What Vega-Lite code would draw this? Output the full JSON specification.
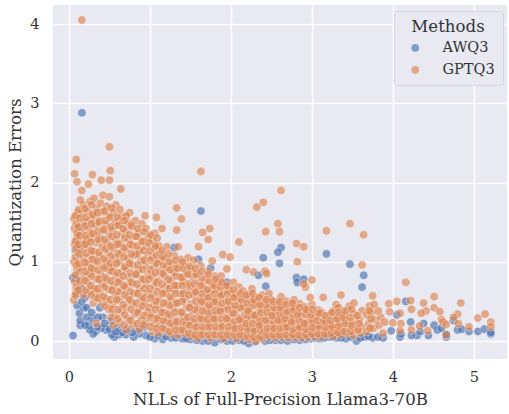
{"$schema":"https://vega.github.io/schema/vega-lite/v6.json","width":454,"height":354,"autosize":"none","padding":{"left":53,"top":5,"right":2,"bottom":55},"background":"white",
"config":{"view":{"fill":"#e8e9f1","stroke":null},"font":"DejaVu Serif"},
"datasets":{
"awq":[{"x":0.16,"y":2.88},{"x":1.63,"y":1.64},{"x":1.6,"y":1.03},{"x":2.62,"y":1.18},{"x":2.58,"y":1.12},{"x":2.4,"y":1.05},{"x":2.6,"y":0.98},{"x":3.18,"y":1.1},{"x":3.47,"y":0.97},{"x":3.64,"y":0.83},{"x":3.62,"y":0.68},{"x":2.81,"y":0.8},{"x":2.82,"y":0.74},{"x":2.9,"y":0.78},{"x":2.43,"y":0.69},{"x":2.34,"y":0.83},{"x":1.3,"y":1.18},{"x":1.75,"y":0.92},{"x":1.95,"y":0.74},{"x":4.16,"y":0.5},{"x":4.05,"y":0.33},{"x":4.22,"y":0.24},{"x":4.38,"y":0.22},{"x":4.51,"y":0.2},{"x":4.55,"y":0.14},{"x":4.6,"y":0.16},{"x":4.75,"y":0.26},{"x":4.8,"y":0.14},{"x":4.85,"y":0.15},{"x":4.94,"y":0.12},{"x":5.05,"y":0.12},{"x":5.13,"y":0.15},{"x":5.21,"y":0.09},{"x":5.21,"y":0.11},{"x":4.66,"y":0.05},{"x":4.66,"y":0.08},{"x":4.44,"y":0.07},{"x":4.3,"y":0.07},{"x":4.34,"y":0.12},{"x":4.23,"y":0.07},{"x":4.09,"y":0.05},{"x":4.1,"y":0.09},{"x":3.98,"y":0.13},{"x":3.88,"y":0.04},{"x":3.75,"y":0.04},{"x":3.65,"y":0.05},{"x":3.55,"y":0.0},{"x":3.6,"y":0.04},{"x":3.42,"y":0.03},{"x":3.3,"y":0.04},{"x":3.2,"y":0.05},{"x":3.1,"y":0.03},{"x":2.98,"y":0.03},{"x":2.85,"y":0.01},{"x":2.7,"y":0.0},{"x":2.55,"y":0.01},{"x":2.42,"y":0.0},{"x":2.22,"y":-0.03},{"x":2.1,"y":0.01},{"x":1.95,"y":0.0},{"x":1.8,"y":-0.02},{"x":1.65,"y":0.0},{"x":1.5,"y":0.02},{"x":1.4,"y":0.03},{"x":1.26,"y":0.04},{"x":1.16,"y":0.02},{"x":1.06,"y":0.03},{"x":0.95,"y":0.07},{"x":0.87,"y":0.09},{"x":0.84,"y":0.13},{"x":0.8,"y":0.05},{"x":0.7,"y":0.08},{"x":0.62,"y":0.08},{"x":0.56,"y":0.05},{"x":0.53,"y":0.08},{"x":0.46,"y":0.14},{"x":0.4,"y":0.16},{"x":0.33,"y":0.12},{"x":0.3,"y":0.09},{"x":0.25,"y":0.2},{"x":0.29,"y":0.28},{"x":0.14,"y":0.2},{"x":0.14,"y":0.26},{"x":0.13,"y":0.35},{"x":0.18,"y":0.42},{"x":0.05,"y":0.07},{"x":0.05,"y":0.8},{"x":0.09,"y":0.78},{"x":0.1,"y":0.6},{"x":0.08,"y":1.15},{"x":0.12,"y":1.18},{"x":0.12,"y":1.42},{"x":0.42,"y":0.3},{"x":0.52,"y":0.25},{"x":0.6,"y":0.17},{"x":0.72,"y":0.16},{"x":0.92,"y":0.17},{"x":1.1,"y":0.07},{"x":1.2,"y":0.06},{"x":0.2,"y":0.55},{"x":0.15,"y":0.66},{"x":0.22,"y":0.3},{"x":0.35,"y":0.18},{"x":0.5,"y":0.15},{"x":0.66,"y":0.11},{"x":0.78,"y":0.11},{"x":1.0,"y":0.05},{"x":1.32,"y":0.04},{"x":1.45,"y":0.03},{"x":1.58,"y":0.01},{"x":1.72,"y":0.0},{"x":1.88,"y":0.02},{"x":2.02,"y":0.0},{"x":2.16,"y":0.0},{"x":2.3,"y":-0.01},{"x":2.48,"y":0.01},{"x":2.62,"y":0.01},{"x":2.78,"y":0.02},{"x":2.92,"y":0.02},{"x":3.04,"y":0.04},{"x":3.15,"y":0.04},{"x":3.25,"y":0.05},{"x":3.36,"y":0.04},{"x":3.48,"y":0.05},{"x":3.7,"y":0.06},{"x":3.82,"y":0.05},{"x":0.1,"y":0.45},{"x":0.16,"y":0.5},{"x":0.22,"y":0.42},{"x":0.28,"y":0.36},{"x":0.36,"y":0.3},{"x":0.44,"y":0.22},{"x":0.38,"y":0.42},{"x":0.26,"y":0.14},{"x":0.58,"y":0.12},{"x":0.2,"y":0.2}],
"gpt":[{"x":0.16,"y":4.05},{"x":0.5,"y":2.45},{"x":0.09,"y":2.29},{"x":0.51,"y":2.15},{"x":0.07,"y":2.11},{"x":0.29,"y":2.1},{"x":0.1,"y":2.01},{"x":0.4,"y":2.03},{"x":0.5,"y":2.03},{"x":0.24,"y":1.98},{"x":0.64,"y":1.92},{"x":0.16,"y":1.9},{"x":1.63,"y":2.14},{"x":2.62,"y":1.9},{"x":2.4,"y":1.75},{"x":2.32,"y":1.69},{"x":1.33,"y":1.68},{"x":0.75,"y":1.62},{"x":1.39,"y":1.54},{"x":1.65,"y":1.37},{"x":1.74,"y":1.42},{"x":1.72,"y":1.28},{"x":2.1,"y":1.25},{"x":1.33,"y":1.4},{"x":1.6,"y":1.19},{"x":1.9,"y":1.09},{"x":1.99,"y":1.06},{"x":1.77,"y":1.01},{"x":2.19,"y":0.9},{"x":1.95,"y":0.91},{"x":2.28,"y":0.87},{"x":2.58,"y":1.48},{"x":2.43,"y":1.38},{"x":2.6,"y":1.38},{"x":2.81,"y":1.23},{"x":2.9,"y":1.19},{"x":3.18,"y":1.39},{"x":3.47,"y":1.48},{"x":3.64,"y":1.34},{"x":2.82,"y":1.0},{"x":3.62,"y":0.96},{"x":2.42,"y":0.88},{"x":2.44,"y":0.85},{"x":3.0,"y":0.77},{"x":2.92,"y":0.68},{"x":2.9,"y":0.72},{"x":3.36,"y":0.58},{"x":3.14,"y":0.55},{"x":3.75,"y":0.57},{"x":4.16,"y":0.74},{"x":4.51,"y":0.56},{"x":4.84,"y":0.48},{"x":4.05,"y":0.5},{"x":4.22,"y":0.51},{"x":3.95,"y":0.47},{"x":4.23,"y":0.4},{"x":4.38,"y":0.48},{"x":4.51,"y":0.42},{"x":4.58,"y":0.37},{"x":4.41,"y":0.38},{"x":4.35,"y":0.35},{"x":4.09,"y":0.35},{"x":3.96,"y":0.37},{"x":4.8,"y":0.34},{"x":4.75,"y":0.3},{"x":4.6,"y":0.27},{"x":4.62,"y":0.24},{"x":4.66,"y":0.21},{"x":4.81,"y":0.22},{"x":4.94,"y":0.18},{"x":5.05,"y":0.29},{"x":5.14,"y":0.34},{"x":5.21,"y":0.24},{"x":5.21,"y":0.18},{"x":4.0,"y":0.23},{"x":4.1,"y":0.22},{"x":3.88,"y":0.1},{"x":4.09,"y":0.13},{"x":4.33,"y":0.19},{"x":4.23,"y":0.14},{"x":4.43,"y":0.13},{"x":4.66,"y":0.08},
{"x":0.06,"y":0.52},{"x":0.09,"y":0.62},{"x":0.07,"y":0.75},{"x":0.1,"y":0.9},{"x":0.06,"y":1.0},{"x":0.11,"y":1.12},{"x":0.07,"y":1.22},{"x":0.1,"y":1.3},{"x":0.07,"y":1.42},{"x":0.06,"y":1.55},{"x":0.11,"y":1.62},
{"x":0.18,"y":0.58},{"x":0.15,"y":0.7},{"x":0.19,"y":0.82},{"x":0.16,"y":0.93},{"x":0.18,"y":1.05},{"x":0.15,"y":1.16},{"x":0.18,"y":1.28},{"x":0.16,"y":1.38},{"x":0.19,"y":1.5},{"x":0.15,"y":1.6},{"x":0.18,"y":1.72},{"x":0.14,"y":1.78},
{"x":0.26,"y":0.63},{"x":0.23,"y":0.74},{"x":0.26,"y":0.85},{"x":0.24,"y":0.97},{"x":0.27,"y":1.08},{"x":0.23,"y":1.19},{"x":0.26,"y":1.3},{"x":0.24,"y":1.42},{"x":0.27,"y":1.53},{"x":0.23,"y":1.64},{"x":0.26,"y":1.76},
{"x":0.34,"y":0.22},{"x":0.3,"y":0.48},{"x":0.33,"y":0.55},{"x":0.31,"y":0.66},{"x":0.34,"y":0.78},{"x":0.3,"y":0.9},{"x":0.33,"y":1.02},{"x":0.31,"y":1.13},{"x":0.34,"y":1.24},{"x":0.3,"y":1.35},{"x":0.33,"y":1.46},{"x":0.31,"y":1.58},{"x":0.34,"y":1.68},{"x":0.31,"y":1.8},
{"x":0.41,"y":0.48},{"x":0.38,"y":0.6},{"x":0.41,"y":0.72},{"x":0.39,"y":0.84},{"x":0.42,"y":0.95},{"x":0.38,"y":1.07},{"x":0.41,"y":1.19},{"x":0.39,"y":1.3},{"x":0.42,"y":1.41},{"x":0.38,"y":1.52},{"x":0.41,"y":1.63},{"x":0.39,"y":1.74},{"x":0.42,"y":1.84},
{"x":0.49,"y":0.4},{"x":0.46,"y":0.53},{"x":0.49,"y":0.65},{"x":0.47,"y":0.77},{"x":0.5,"y":0.89},{"x":0.46,"y":1.0},{"x":0.49,"y":1.12},{"x":0.47,"y":1.24},{"x":0.5,"y":1.35},{"x":0.46,"y":1.47},{"x":0.49,"y":1.58},{"x":0.47,"y":1.7},{"x":0.5,"y":1.82},
{"x":0.55,"y":0.2},{"x":0.57,"y":0.33},{"x":0.54,"y":0.46},{"x":0.57,"y":0.58},{"x":0.55,"y":0.7},{"x":0.58,"y":0.82},{"x":0.54,"y":0.93},{"x":0.57,"y":1.05},{"x":0.55,"y":1.17},{"x":0.58,"y":1.28},{"x":0.54,"y":1.4},{"x":0.57,"y":1.5},{"x":0.55,"y":1.62},{"x":0.58,"y":1.72},
{"x":0.63,"y":0.24},{"x":0.65,"y":0.38},{"x":0.62,"y":0.52},{"x":0.65,"y":0.64},{"x":0.63,"y":0.76},{"x":0.66,"y":0.88},{"x":0.62,"y":1.0},{"x":0.65,"y":1.12},{"x":0.63,"y":1.23},{"x":0.66,"y":1.35},{"x":0.62,"y":1.46},{"x":0.65,"y":1.57},{"x":0.63,"y":1.66},
{"x":0.71,"y":0.14},{"x":0.73,"y":0.28},{"x":0.7,"y":0.42},{"x":0.73,"y":0.55},{"x":0.71,"y":0.68},{"x":0.74,"y":0.8},{"x":0.7,"y":0.92},{"x":0.73,"y":1.04},{"x":0.71,"y":1.16},{"x":0.74,"y":1.28},{"x":0.7,"y":1.39},{"x":0.73,"y":1.5},{"x":0.71,"y":1.58},
{"x":0.79,"y":0.2},{"x":0.81,"y":0.34},{"x":0.78,"y":0.48},{"x":0.81,"y":0.6},{"x":0.79,"y":0.72},{"x":0.82,"y":0.84},{"x":0.78,"y":0.96},{"x":0.81,"y":1.08},{"x":0.79,"y":1.2},{"x":0.82,"y":1.32},{"x":0.78,"y":1.44},{"x":0.82,"y":1.52},
{"x":0.87,"y":0.15},{"x":0.89,"y":0.27},{"x":0.86,"y":0.4},{"x":0.89,"y":0.53},{"x":0.87,"y":0.66},{"x":0.9,"y":0.78},{"x":0.86,"y":0.9},{"x":0.89,"y":1.02},{"x":0.87,"y":1.14},{"x":0.9,"y":1.25},{"x":0.86,"y":1.36},{"x":0.9,"y":1.48},
{"x":0.95,"y":0.24},{"x":0.97,"y":0.36},{"x":0.94,"y":0.48},{"x":0.97,"y":0.6},{"x":0.95,"y":0.72},{"x":0.98,"y":0.84},{"x":0.94,"y":0.96},{"x":0.97,"y":1.08},{"x":0.95,"y":1.2},{"x":0.98,"y":1.31},{"x":0.95,"y":1.42},{"x":1.08,"y":1.56},{"x":0.94,"y":1.58},
{"x":1.03,"y":0.12},{"x":1.05,"y":0.22},{"x":1.02,"y":0.34},{"x":1.05,"y":0.46},{"x":1.03,"y":0.58},{"x":1.06,"y":0.7},{"x":1.02,"y":0.82},{"x":1.05,"y":0.94},{"x":1.03,"y":1.06},{"x":1.06,"y":1.17},{"x":1.03,"y":1.27},{"x":1.06,"y":1.36},
{"x":1.11,"y":0.1},{"x":1.13,"y":0.2},{"x":1.1,"y":0.3},{"x":1.13,"y":0.42},{"x":1.11,"y":0.53},{"x":1.14,"y":0.65},{"x":1.1,"y":0.76},{"x":1.13,"y":0.88},{"x":1.11,"y":1.0},{"x":1.14,"y":1.1},{"x":1.11,"y":1.2},{"x":1.15,"y":1.42},
{"x":1.19,"y":0.14},{"x":1.21,"y":0.25},{"x":1.18,"y":0.36},{"x":1.21,"y":0.48},{"x":1.19,"y":0.6},{"x":1.22,"y":0.7},{"x":1.18,"y":0.82},{"x":1.21,"y":0.93},{"x":1.19,"y":1.05},{"x":1.21,"y":1.19},
{"x":1.27,"y":0.09},{"x":1.29,"y":0.2},{"x":1.26,"y":0.31},{"x":1.29,"y":0.42},{"x":1.27,"y":0.53},{"x":1.3,"y":0.65},{"x":1.26,"y":0.76},{"x":1.29,"y":0.87},{"x":1.27,"y":0.98},{"x":1.3,"y":1.08},
{"x":1.35,"y":0.08},{"x":1.37,"y":0.16},{"x":1.34,"y":0.26},{"x":1.37,"y":0.37},{"x":1.35,"y":0.48},{"x":1.38,"y":0.59},{"x":1.34,"y":0.7},{"x":1.37,"y":0.81},{"x":1.35,"y":0.92},{"x":1.38,"y":1.03},{"x":1.35,"y":1.19},
{"x":1.43,"y":0.1},{"x":1.45,"y":0.2},{"x":1.42,"y":0.31},{"x":1.45,"y":0.42},{"x":1.43,"y":0.53},{"x":1.46,"y":0.64},{"x":1.42,"y":0.75},{"x":1.45,"y":0.86},{"x":1.43,"y":0.97},{"x":1.47,"y":1.05},
{"x":1.51,"y":0.06},{"x":1.53,"y":0.15},{"x":1.5,"y":0.25},{"x":1.53,"y":0.36},{"x":1.51,"y":0.47},{"x":1.54,"y":0.58},{"x":1.5,"y":0.69},{"x":1.53,"y":0.8},{"x":1.51,"y":0.91},{"x":1.54,"y":1.02},
{"x":1.59,"y":0.04},{"x":1.61,"y":0.13},{"x":1.58,"y":0.22},{"x":1.61,"y":0.32},{"x":1.59,"y":0.42},{"x":1.62,"y":0.53},{"x":1.58,"y":0.63},{"x":1.61,"y":0.74},{"x":1.59,"y":0.85},{"x":1.63,"y":0.95},
{"x":1.67,"y":0.08},{"x":1.69,"y":0.17},{"x":1.66,"y":0.27},{"x":1.69,"y":0.37},{"x":1.67,"y":0.47},{"x":1.7,"y":0.57},{"x":1.66,"y":0.67},{"x":1.69,"y":0.77},{"x":1.72,"y":0.88},
{"x":1.75,"y":0.04},{"x":1.77,"y":0.13},{"x":1.74,"y":0.22},{"x":1.77,"y":0.32},{"x":1.75,"y":0.42},{"x":1.78,"y":0.52},{"x":1.74,"y":0.62},{"x":1.77,"y":0.72},{"x":1.8,"y":0.82},
{"x":1.83,"y":0.07},{"x":1.85,"y":0.16},{"x":1.82,"y":0.26},{"x":1.85,"y":0.36},{"x":1.83,"y":0.46},{"x":1.86,"y":0.56},{"x":1.82,"y":0.66},{"x":1.85,"y":0.75},{"x":1.88,"y":0.82},
{"x":1.91,"y":0.03},{"x":1.93,"y":0.12},{"x":1.9,"y":0.21},{"x":1.93,"y":0.31},{"x":1.91,"y":0.41},{"x":1.94,"y":0.51},{"x":1.9,"y":0.6},{"x":1.93,"y":0.69},
{"x":1.99,"y":0.06},{"x":2.01,"y":0.15},{"x":1.98,"y":0.25},{"x":2.01,"y":0.35},{"x":1.99,"y":0.45},{"x":2.02,"y":0.55},{"x":1.98,"y":0.64},{"x":2.03,"y":0.74},
{"x":2.07,"y":0.03},{"x":2.09,"y":0.11},{"x":2.06,"y":0.2},{"x":2.09,"y":0.3},{"x":2.07,"y":0.4},{"x":2.1,"y":0.5},{"x":2.06,"y":0.59},{"x":2.1,"y":0.68},
{"x":2.15,"y":0.05},{"x":2.17,"y":0.14},{"x":2.14,"y":0.24},{"x":2.17,"y":0.34},{"x":2.15,"y":0.44},{"x":2.18,"y":0.54},{"x":2.15,"y":0.63},
{"x":2.23,"y":0.02},{"x":2.25,"y":0.1},{"x":2.22,"y":0.19},{"x":2.25,"y":0.29},{"x":2.23,"y":0.39},{"x":2.26,"y":0.49},{"x":2.23,"y":0.58},{"x":2.26,"y":0.66},
{"x":2.31,"y":0.0},{"x":2.33,"y":0.07},{"x":2.3,"y":0.15},{"x":2.33,"y":0.24},{"x":2.31,"y":0.34},{"x":2.34,"y":0.44},{"x":2.31,"y":0.53},
{"x":2.39,"y":0.03},{"x":2.41,"y":0.11},{"x":2.38,"y":0.2},{"x":2.41,"y":0.3},{"x":2.39,"y":0.4},{"x":2.42,"y":0.5},{"x":2.39,"y":0.58},
{"x":2.47,"y":0.05},{"x":2.49,"y":0.14},{"x":2.46,"y":0.23},{"x":2.49,"y":0.33},{"x":2.47,"y":0.43},{"x":2.5,"y":0.52},{"x":2.47,"y":0.6},
{"x":2.55,"y":0.04},{"x":2.57,"y":0.12},{"x":2.54,"y":0.2},{"x":2.57,"y":0.29},{"x":2.55,"y":0.38},{"x":2.58,"y":0.47},{"x":2.62,"y":0.56},
{"x":2.63,"y":0.05},{"x":2.65,"y":0.15},{"x":2.62,"y":0.24},{"x":2.65,"y":0.33},{"x":2.63,"y":0.42},{"x":2.68,"y":0.5},
{"x":2.71,"y":0.04},{"x":2.73,"y":0.11},{"x":2.7,"y":0.19},{"x":2.73,"y":0.28},{"x":2.71,"y":0.37},{"x":2.75,"y":0.45},{"x":2.78,"y":0.52},
{"x":2.79,"y":0.05},{"x":2.81,"y":0.14},{"x":2.78,"y":0.23},{"x":2.81,"y":0.32},{"x":2.79,"y":0.41},{"x":2.85,"y":0.47},
{"x":2.87,"y":0.04},{"x":2.89,"y":0.11},{"x":2.86,"y":0.19},{"x":2.89,"y":0.27},{"x":2.87,"y":0.35},{"x":2.91,"y":0.43},
{"x":2.95,"y":0.05},{"x":2.97,"y":0.13},{"x":2.94,"y":0.22},{"x":2.97,"y":0.3},{"x":2.95,"y":0.38},{"x":3.0,"y":0.46},{"x":2.98,"y":0.55},
{"x":3.03,"y":0.06},{"x":3.05,"y":0.14},{"x":3.02,"y":0.22},{"x":3.05,"y":0.31},{"x":3.08,"y":0.39},
{"x":3.11,"y":0.05},{"x":3.13,"y":0.12},{"x":3.1,"y":0.2},{"x":3.14,"y":0.28},{"x":3.12,"y":0.36},
{"x":3.19,"y":0.08},{"x":3.21,"y":0.16},{"x":3.18,"y":0.24},{"x":3.22,"y":0.33},
{"x":3.27,"y":0.06},{"x":3.29,"y":0.13},{"x":3.26,"y":0.21},{"x":3.29,"y":0.29},{"x":3.27,"y":0.38},{"x":3.3,"y":0.46},
{"x":3.35,"y":0.08},{"x":3.37,"y":0.16},{"x":3.34,"y":0.24},{"x":3.37,"y":0.33},{"x":3.33,"y":0.42},
{"x":3.43,"y":0.1},{"x":3.45,"y":0.18},{"x":3.42,"y":0.26},{"x":3.44,"y":0.38},{"x":3.46,"y":0.44},
{"x":3.51,"y":0.07},{"x":3.54,"y":0.15},{"x":3.5,"y":0.24},{"x":3.53,"y":0.34},{"x":3.52,"y":0.48},
{"x":3.6,"y":0.1},{"x":3.62,"y":0.18},{"x":3.59,"y":0.27},{"x":3.62,"y":0.38},
{"x":3.68,"y":0.12},{"x":3.7,"y":0.22},{"x":3.68,"y":0.33},{"x":3.71,"y":0.44},
{"x":3.76,"y":0.16},{"x":3.78,"y":0.27},{"x":3.74,"y":0.36},{"x":3.77,"y":0.46},
{"x":3.83,"y":0.2},{"x":3.85,"y":0.3},{"x":3.82,"y":0.38},{"x":3.9,"y":0.24},
{"x":0.13,"y":0.88},{"x":0.21,"y":1.25},{"x":0.28,"y":0.82},{"x":0.36,"y":1.28},{"x":0.44,"y":0.68},{"x":0.52,"y":1.07},{"x":0.6,"y":0.62},{"x":0.68,"y":1.18},{"x":0.76,"y":0.62},{"x":0.84,"y":1.1},{"x":0.92,"y":0.55},{"x":1.0,"y":0.9},{"x":1.08,"y":0.5},{"x":1.16,"y":0.85},{"x":1.24,"y":0.45},{"x":1.32,"y":0.82},{"x":1.4,"y":0.5},{"x":1.48,"y":0.72},{"x":1.56,"y":0.4},{"x":1.64,"y":0.6},{"x":1.72,"y":0.35},{"x":1.8,"y":0.5},{"x":1.88,"y":0.28},{"x":1.96,"y":0.4},{"x":2.04,"y":0.25},{"x":2.12,"y":0.42},{"x":2.2,"y":0.3},{"x":2.28,"y":0.45},{"x":2.36,"y":0.27},{"x":2.44,"y":0.44},{"x":2.52,"y":0.25},{"x":2.6,"y":0.34},{"x":2.68,"y":0.22},{"x":2.76,"y":0.32},{"x":2.84,"y":0.26},{"x":2.92,"y":0.34},{"x":3.0,"y":0.25},
{"x":0.08,"y":0.58},{"x":0.09,"y":0.68},{"x":0.08,"y":0.83},{"x":0.09,"y":0.96},{"x":0.08,"y":1.06},{"x":0.09,"y":1.17},{"x":0.08,"y":1.26},{"x":0.1,"y":1.36},{"x":0.09,"y":1.48},{"x":0.08,"y":1.58},
{"x":0.12,"y":0.64},{"x":0.13,"y":0.76},{"x":0.12,"y":0.98},{"x":0.13,"y":1.1},{"x":0.12,"y":1.22},{"x":0.13,"y":1.33},{"x":0.12,"y":1.44},{"x":0.13,"y":1.55},{"x":0.12,"y":1.66},
{"x":0.21,"y":0.64},{"x":0.2,"y":0.76},{"x":0.21,"y":0.88},{"x":0.2,"y":0.99},{"x":0.21,"y":1.11},{"x":0.2,"y":1.22},{"x":0.21,"y":1.33},{"x":0.2,"y":1.45},{"x":0.21,"y":1.56},{"x":0.2,"y":1.67},
{"x":0.28,"y":0.58},{"x":0.27,"y":0.7},{"x":0.28,"y":0.92},{"x":0.29,"y":1.03},{"x":0.28,"y":1.14},{"x":0.27,"y":1.25},{"x":0.29,"y":1.36},{"x":0.28,"y":1.48},{"x":0.29,"y":1.6},{"x":0.28,"y":1.72},
{"x":0.36,"y":0.54},{"x":0.35,"y":0.66},{"x":0.37,"y":0.78},{"x":0.36,"y":0.9},{"x":0.35,"y":1.0},{"x":0.37,"y":1.12},{"x":0.36,"y":1.38},{"x":0.37,"y":1.5},{"x":0.35,"y":1.62},
{"x":0.45,"y":0.44},{"x":0.43,"y":0.56},{"x":0.45,"y":0.8},{"x":0.44,"y":0.92},{"x":0.43,"y":1.04},{"x":0.45,"y":1.16},{"x":0.44,"y":1.28},{"x":0.43,"y":1.4},{"x":0.45,"y":1.52},{"x":0.44,"y":1.64},
{"x":0.52,"y":0.3},{"x":0.53,"y":0.4},{"x":0.51,"y":0.52},{"x":0.53,"y":0.64},{"x":0.52,"y":0.76},{"x":0.53,"y":0.88},{"x":0.51,"y":0.98},{"x":0.52,"y":1.2},{"x":0.53,"y":1.32},{"x":0.52,"y":1.44},{"x":0.51,"y":1.56},{"x":0.53,"y":1.68},
{"x":0.6,"y":0.28},{"x":0.61,"y":0.4},{"x":0.59,"y":0.52},{"x":0.61,"y":0.74},{"x":0.6,"y":0.86},{"x":0.59,"y":0.98},{"x":0.61,"y":1.1},{"x":0.6,"y":1.22},{"x":0.59,"y":1.34},{"x":0.61,"y":1.46},{"x":0.6,"y":1.56},
{"x":0.68,"y":0.2},{"x":0.69,"y":0.33},{"x":0.67,"y":0.46},{"x":0.69,"y":0.58},{"x":0.68,"y":0.7},{"x":0.67,"y":0.82},{"x":0.69,"y":0.94},{"x":0.68,"y":1.06},{"x":0.69,"y":1.3},{"x":0.67,"y":1.42},{"x":0.68,"y":1.52},
{"x":0.76,"y":0.26},{"x":0.77,"y":0.4},{"x":0.75,"y":0.52},{"x":0.77,"y":0.74},{"x":0.76,"y":0.86},{"x":0.75,"y":0.98},{"x":0.77,"y":1.1},{"x":0.76,"y":1.22},{"x":0.75,"y":1.34},{"x":0.77,"y":1.46},
{"x":0.84,"y":0.22},{"x":0.85,"y":0.36},{"x":0.83,"y":0.48},{"x":0.85,"y":0.6},{"x":0.84,"y":0.72},{"x":0.83,"y":0.84},{"x":0.85,"y":0.96},{"x":0.84,"y":1.2},{"x":0.83,"y":1.32},{"x":0.85,"y":1.42},
{"x":0.92,"y":0.2},{"x":0.93,"y":0.32},{"x":0.91,"y":0.44},{"x":0.93,"y":0.66},{"x":0.92,"y":0.78},{"x":0.91,"y":0.9},{"x":0.93,"y":1.02},{"x":0.92,"y":1.14},{"x":0.91,"y":1.26},{"x":0.93,"y":1.38},
{"x":1.0,"y":0.18},{"x":1.01,"y":0.3},{"x":0.99,"y":0.42},{"x":1.01,"y":0.54},{"x":1.0,"y":0.66},{"x":0.99,"y":0.78},{"x":1.01,"y":1.02},{"x":1.0,"y":1.14},{"x":0.99,"y":1.24},{"x":1.01,"y":1.34},
{"x":1.08,"y":0.16},{"x":1.09,"y":0.28},{"x":1.07,"y":0.4},{"x":1.09,"y":0.62},{"x":1.08,"y":0.74},{"x":1.07,"y":0.86},{"x":1.09,"y":0.98},{"x":1.08,"y":1.08},{"x":1.07,"y":1.2},{"x":1.09,"y":1.3},
{"x":1.16,"y":0.16},{"x":1.17,"y":0.26},{"x":1.15,"y":0.36},{"x":1.17,"y":0.48},{"x":1.16,"y":0.6},{"x":1.15,"y":0.72},{"x":1.17,"y":0.96},{"x":1.16,"y":1.06},{"x":1.15,"y":1.14},
{"x":1.24,"y":0.12},{"x":1.25,"y":0.22},{"x":1.23,"y":0.34},{"x":1.25,"y":0.56},{"x":1.24,"y":0.66},{"x":1.23,"y":0.78},{"x":1.25,"y":0.9},{"x":1.24,"y":1.0},{"x":1.23,"y":1.1},
{"x":1.32,"y":0.14},{"x":1.33,"y":0.24},{"x":1.31,"y":0.36},{"x":1.33,"y":0.48},{"x":1.32,"y":0.6},{"x":1.31,"y":0.7},{"x":1.33,"y":0.92},{"x":1.32,"y":1.02},
{"x":1.4,"y":0.14},{"x":1.41,"y":0.24},{"x":1.39,"y":0.36},{"x":1.41,"y":0.6},{"x":1.4,"y":0.7},{"x":1.39,"y":0.8},{"x":1.41,"y":0.92},{"x":1.4,"y":1.0},
{"x":1.48,"y":0.1},{"x":1.49,"y":0.2},{"x":1.47,"y":0.3},{"x":1.49,"y":0.42},{"x":1.48,"y":0.58},{"x":1.47,"y":0.84},{"x":1.49,"y":0.94},
{"x":1.56,"y":0.08},{"x":1.57,"y":0.18},{"x":1.55,"y":0.28},{"x":1.57,"y":0.5},{"x":1.56,"y":0.62},{"x":1.55,"y":0.72},{"x":1.57,"y":0.84},{"x":1.56,"y":0.92},
{"x":1.64,"y":0.08},{"x":1.65,"y":0.18},{"x":1.63,"y":0.28},{"x":1.65,"y":0.38},{"x":1.64,"y":0.5},{"x":1.63,"y":0.7},{"x":1.65,"y":0.8},{"x":1.64,"y":0.88},
{"x":1.72,"y":0.08},{"x":1.73,"y":0.18},{"x":1.71,"y":0.27},{"x":1.73,"y":0.45},{"x":1.72,"y":0.55},{"x":1.71,"y":0.65},{"x":1.73,"y":0.76},{"x":1.72,"y":0.84},
{"x":1.8,"y":0.08},{"x":1.81,"y":0.18},{"x":1.79,"y":0.28},{"x":1.81,"y":0.38},{"x":1.8,"y":0.6},{"x":1.79,"y":0.7},{"x":1.81,"y":0.78},
{"x":1.88,"y":0.08},{"x":1.89,"y":0.18},{"x":1.87,"y":0.38},{"x":1.89,"y":0.48},{"x":1.88,"y":0.58},{"x":1.87,"y":0.68},{"x":1.89,"y":0.74},
{"x":1.96,"y":0.08},{"x":1.97,"y":0.18},{"x":1.95,"y":0.28},{"x":1.97,"y":0.5},{"x":1.96,"y":0.6},{"x":1.95,"y":0.7},
{"x":2.04,"y":0.08},{"x":2.05,"y":0.16},{"x":2.03,"y":0.35},{"x":2.05,"y":0.45},{"x":2.04,"y":0.55},{"x":2.03,"y":0.65},
{"x":2.12,"y":0.08},{"x":2.13,"y":0.17},{"x":2.11,"y":0.27},{"x":2.13,"y":0.52},{"x":2.12,"y":0.6},
{"x":2.2,"y":0.06},{"x":2.21,"y":0.15},{"x":2.19,"y":0.22},{"x":2.21,"y":0.38},{"x":2.2,"y":0.48},{"x":2.19,"y":0.58},
{"x":2.28,"y":0.05},{"x":2.29,"y":0.13},{"x":2.27,"y":0.22},{"x":2.29,"y":0.32},{"x":2.28,"y":0.52},{"x":2.27,"y":0.6},
{"x":2.36,"y":0.05},{"x":2.37,"y":0.13},{"x":2.35,"y":0.2},{"x":2.37,"y":0.36},{"x":2.36,"y":0.46},{"x":2.35,"y":0.55},
{"x":2.44,"y":0.08},{"x":2.45,"y":0.16},{"x":2.43,"y":0.26},{"x":2.45,"y":0.36},{"x":2.44,"y":0.52},
{"x":2.52,"y":0.08},{"x":2.53,"y":0.16},{"x":2.51,"y":0.32},{"x":2.53,"y":0.42},{"x":2.52,"y":0.5},
{"x":2.6,"y":0.08},{"x":2.61,"y":0.16},{"x":2.59,"y":0.26},{"x":2.61,"y":0.42},{"x":2.6,"y":0.5},
{"x":2.68,"y":0.08},{"x":2.69,"y":0.17},{"x":2.67,"y":0.28},{"x":2.69,"y":0.37},{"x":2.68,"y":0.46},
{"x":2.76,"y":0.08},{"x":2.77,"y":0.15},{"x":2.75,"y":0.24},{"x":2.77,"y":0.4},{"x":2.76,"y":0.48},
{"x":2.84,"y":0.08},{"x":2.85,"y":0.17},{"x":2.83,"y":0.34},{"x":2.85,"y":0.42},
{"x":2.92,"y":0.08},{"x":2.93,"y":0.15},{"x":2.91,"y":0.22},{"x":2.93,"y":0.4},
{"x":3.0,"y":0.09},{"x":3.01,"y":0.17},{"x":2.99,"y":0.33},{"x":3.01,"y":0.4},
{"x":3.08,"y":0.09},{"x":3.09,"y":0.18},{"x":3.07,"y":0.26},{"x":3.09,"y":0.35},
{"x":3.16,"y":0.09},{"x":3.17,"y":0.17},{"x":3.15,"y":0.25},{"x":3.17,"y":0.32},
{"x":3.24,"y":0.1},{"x":3.25,"y":0.18},{"x":3.23,"y":0.26},{"x":3.25,"y":0.36},
{"x":3.32,"y":0.11},{"x":3.33,"y":0.19},{"x":3.31,"y":0.28},{"x":3.33,"y":0.36},
{"x":3.4,"y":0.12},{"x":3.41,"y":0.22},{"x":3.39,"y":0.3},{"x":3.41,"y":0.38},
{"x":3.48,"y":0.12},{"x":3.49,"y":0.2},{"x":3.47,"y":0.3},{"x":3.49,"y":0.4},
{"x":3.57,"y":0.14},{"x":3.58,"y":0.22},{"x":3.56,"y":0.32},
{"x":3.72,"y":0.16},{"x":3.73,"y":0.28},{"x":3.71,"y":0.38}]
},
"layer":[
{"data":{"name":"awq"},"mark":{"type":"point","filled":true,"opacity":0.65,"stroke":"white","strokeWidth":0.6,"size":74},"encoding":{"x":{"field":"x","type":"quantitative","scale":{"domain":[-0.197,5.41],"nice":false,"zero":false},"axis":{"values":[0,1,2,3,4,5],"format":"d","title":"NLLs of Full-Precision Llama3-70B","grid":true,"gridColor":"white","gridWidth":1.5,"domain":false,"ticks":false,"labelFontSize":14.5,"labelColor":"#333333","labelPadding":11,"titleFontSize":16.6,"titleFontWeight":"normal","titleColor":"#333333","titlePadding":8}},"y":{"field":"y","type":"quantitative","scale":{"domain":[-0.227,4.24],"nice":false,"zero":false},"axis":{"values":[0,1,2,3,4],"format":"d","title":"Quantization Errors","grid":true,"gridColor":"white","gridWidth":1.5,"domain":false,"ticks":false,"labelFontSize":14.5,"labelColor":"#333333","labelPadding":14,"titleFontSize":16.6,"titleFontWeight":"normal","titleColor":"#333333","titlePadding":6}},"color":{"datum":"AWQ3","type":"nominal","scale":{"domain":["AWQ3","GPTQ3"],"range":["#4C72B0","#DD8452"]},"legend":{"title":"Methods","orient":"none","legendX":341,"legendY":6,"fillColor":"#e8e9f1","strokeColor":"#d4d5de","cornerRadius":3,"padding":8,"titleFontSize":16.6,"titleFontWeight":"normal","titleColor":"#333333","titleAnchor":"middle","labelFontSize":14.5,"labelColor":"#333333","labelOffset":20,"symbolSize":60,"symbolType":"circle","symbolOpacity":0.65,"symbolStrokeWidth":0,"symbolOffset":6,"rowPadding":7,"titlePadding":5}}}},
{"data":{"name":"gpt"},"mark":{"type":"point","filled":true,"opacity":0.65,"stroke":"white","strokeWidth":0.6,"size":74},"encoding":{"x":{"field":"x","type":"quantitative"},"y":{"field":"y","type":"quantitative"},"color":{"datum":"GPTQ3","type":"nominal"}}}
]}
